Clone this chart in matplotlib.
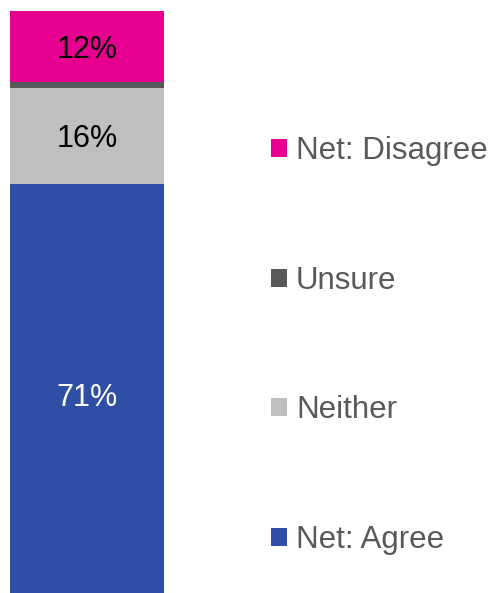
import matplotlib
matplotlib.use("Agg")
import matplotlib.pyplot as plt
from matplotlib.patches import Patch

categories = ["Net: Agree", "Neither", "Unsure", "Net: Disagree"]
values = [71, 16, 1, 12]
labels = ["71%", "16%", "", "12%"]
colors = ["#2F4EA6", "#BFBFBF", "#595959", "#E6008F"]
label_colors = ["white", "black", "black", "black"]

plt.rcParams["font.family"] = ["Liberation Sans", "DejaVu Sans"]

fig = plt.figure(figsize=(4.92, 5.93), dpi=100)
# bar runs a little past the lower edge of the figure
ax = fig.add_axes([10 / 492, -13 / 593, 154 / 492, 595 / 593])

bottom = 0
for cat, v, c, lab, lc in zip(categories, values, colors, labels, label_colors):
    ax.bar(0, v, bottom=bottom, width=1.0, color=c, linewidth=0)
    if lab:
        ax.text(0, bottom + v / 2, lab, ha="center", va="center_baseline",
                fontsize=22, color=lc)
    bottom += v

ax.set_xlim(-0.5, 0.5)
ax.set_ylim(0, sum(values))
ax.axis("off")

handles = [Patch(facecolor=c, edgecolor="none") for c in colors][::-1]
fig.legend(handles, categories[::-1], loc="upper left",
           bbox_to_anchor=(271 / 492, 1 - 136 / 593),
           frameon=False, fontsize=22.5, labelcolor="#595959",
           handlelength=0.5, handleheight=0.5, handletextpad=0.3,
           labelspacing=3.19, borderaxespad=0, borderpad=0)

fig.savefig("out.png", dpi=100)
